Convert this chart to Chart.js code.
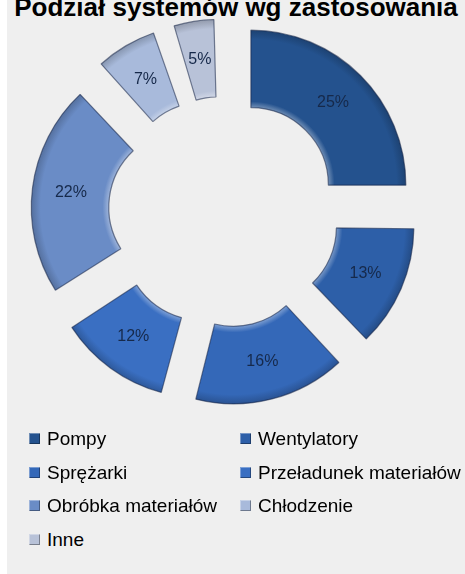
<!DOCTYPE html>
<html>
<head>
<meta charset="utf-8">
<script src="https://cdn.jsdelivr.net/npm/chart.js@4"></script>
<style>
  html, body { margin: 0; padding: 0; }
  body { width: 465px; height: 574px; background: #efefef; position: relative; overflow: hidden;
         font-family: "Liberation Sans", Arial, sans-serif; }
  #strip { position: absolute; left: 0; top: 0; width: 7px; height: 574px; background: #fff; }
  #title { position: absolute; left: 7px; right: 0; top: -6px; text-align: center;
           font: bold 26px/26px "Liberation Sans", Arial, sans-serif; color: #000; white-space: nowrap; }
  #wrap { position: absolute; left: 0; top: 0; width: 465px; height: 430px; }
  #legend { position: absolute; left: 0; top: 427px; width: 465px; }
  .item { position: absolute; height: 24px; line-height: 24px; font-size: 19px; color: #000; white-space: nowrap; }
  .box { display: inline-block; width: 11px; height: 11px; margin-right: 7px; vertical-align: 1px;
         box-shadow: inset 1px 1px 0 rgba(255,255,255,0.35), inset -1px -1px 0 rgba(0,0,0,0.35); }
</style>
</head>
<body>
<div id="strip"></div>
<div id="title">Podział systemów wg zastosowania</div>
<div id="wrap"><canvas id="chart" width="465" height="430"></canvas></div>
<div id="legend"></div>
<script>
// dane
const categories = ['Pompy', 'Wentylatory', 'Sprężarki', 'Przeładunek materiałów', 'Obróbka materiałów', 'Chłodzenie', 'Inne'];
const shares = [25, 13, 16, 12, 22, 7, 5];
const colors = ['#24528e', '#2d5fa8', '#3468b8', '#3a6fc2', '#6a8cc6', '#a8badb', '#b8c2d8'];

const outerR = 155;
const shift = 38; // wysunięcie wycinków w px (Chart.js dzieli offset przez 4)

// legenda w dwóch kolumnach
const legend = document.getElementById('legend');
categories.forEach((name, i) => {
  const div = document.createElement('div');
  div.className = 'item';
  div.style.left = (i % 2 === 0 ? 29 : 240) + 'px';
  div.style.top = (Math.floor(i / 2) * 33.5) + 'px';
  div.innerHTML = '<span class="box" style="background:' + colors[i] + '"></span>' + name;
  legend.appendChild(div);
});

function mix(hex, target, t) {
  const n = parseInt(hex.slice(1), 16);
  const c = [(n >> 16) & 255, (n >> 8) & 255, n & 255].map(v => Math.round(v + (target - v) * t));
  return 'rgb(' + c.join(',') + ')';
}

// lekki efekt wypukłości
function sliceFill(ctx) {
  const base = colors[ctx.dataIndex];
  const area = ctx.chart.chartArea;
  if (!area) return base;
  const cx = (area.left + area.right) / 2;
  const cy = (area.top + area.bottom) / 2;
  const g = ctx.chart.ctx.createRadialGradient(cx, cy, outerR / 2, cx, cy, outerR);
  g.addColorStop(0, mix(base, 255, 0.35));
  g.addColorStop(0.08, base);
  g.addColorStop(0.88, base);
  g.addColorStop(1, mix(base, 0, 0.2));
  return g;
}

// Chart.js powiększa promień małych wycinków przy offsecie - cofamy to
function growth(arc) {
  const c = arc.endAngle - arc.startAngle;
  return (arc.options.offset || 0) / 4 * (1 - Math.sin(Math.min(Math.PI, c)));
}

const keepRadius = {
  id: 'keepRadius',
  afterDatasetUpdate(chart) {
    chart.getDatasetMeta(0).data.forEach(arc => {
      const g = growth(arc);
      arc.outerRadius -= g;
      arc.innerRadius -= g;
    });
  }
};

const percentLabels = {
  id: 'percentLabels',
  afterDatasetsDraw(chart) {
    const ctx = chart.ctx;
    const meta = chart.getDatasetMeta(0);
    ctx.save();
    ctx.font = '16px "Liberation Sans", Arial, sans-serif';
    ctx.fillStyle = '#16294a';
    ctx.textAlign = 'center';
    ctx.textBaseline = 'middle';
    meta.data.forEach((arc, i) => {
      const mid = (arc.startAngle + arc.endAngle) / 2;
      const off = (arc.options.offset || 0) / 4;
      const r = (arc.innerRadius + arc.outerRadius) / 2 + growth(arc) + off;
      ctx.fillText(shares[i] + '%', arc.x + Math.cos(mid) * r, arc.y + Math.sin(mid) * r);
    });
    ctx.restore();
  }
};

new Chart(document.getElementById('chart'), {
  type: 'doughnut',
  data: {
    labels: categories,
    datasets: [{
      data: shares,
      backgroundColor: sliceFill,
      borderColor: 'rgba(20, 35, 70, 0.55)',
      borderWidth: 1.2,
      offset: shift * 4,
      hoverOffset: shift * 4
    }]
  },
  options: {
    responsive: false,
    animation: false,
    radius: outerR,
    cutout: '50%',
    layout: { padding: { left: 0, right: 17, top: 0, bottom: 6 } },
    plugins: {
      legend: { display: false },
      tooltip: { enabled: false },
      title: { display: false }
    }
  },
  plugins: [keepRadius, percentLabels]
});
</script>
</body>
</html>
